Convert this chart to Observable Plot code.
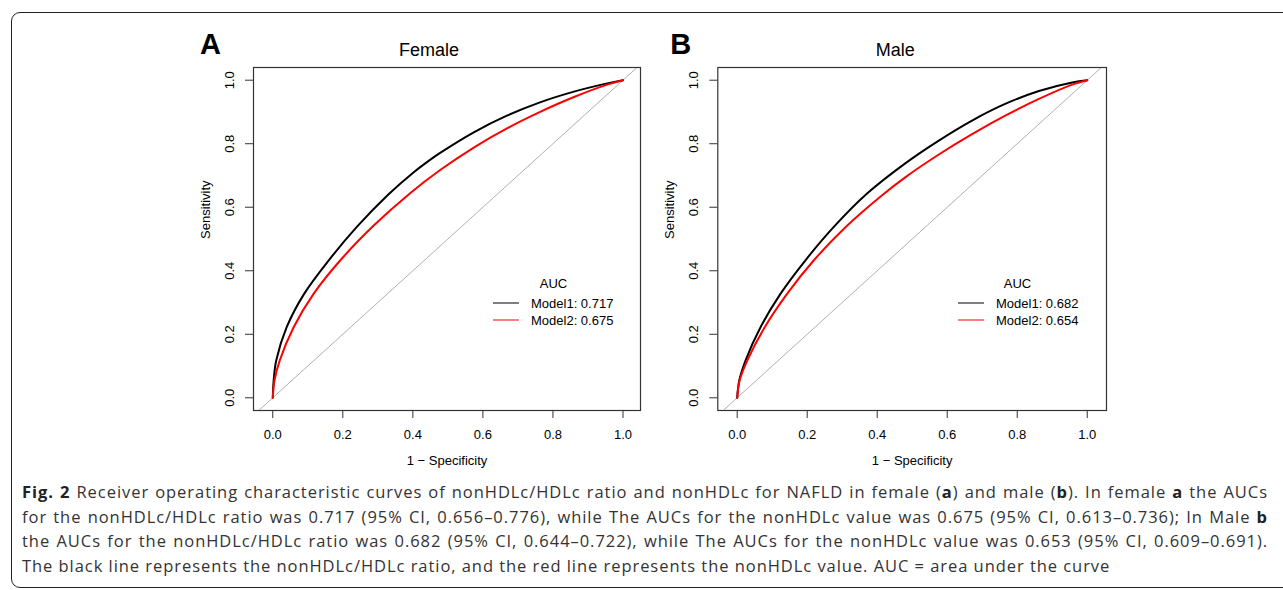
<!DOCTYPE html>
<html>
<head>
<meta charset="utf-8">
<script src="https://cdn.jsdelivr.net/npm/d3@7"></script>
<script src="https://cdn.jsdelivr.net/npm/@observablehq/plot@0.6"></script>
<style>
  html, body { margin: 0; padding: 0; background: #fff; }
  #page { position: relative; width: 1283px; height: 590px; overflow: hidden; background: #fff; }
  #frame { position: absolute; left: 11px; top: 12px; width: 1320px; height: 576px; border: 1.6px solid #222; border-radius: 9px; box-sizing: border-box; }
  .panel { position: absolute; top: 0; }
  .legend { position: absolute; left: 0; top: 0; font-family: "Liberation Sans", Arial, sans-serif; font-size: 13px; color: #000; }
  .legend .ttl { position: absolute; transform: translate(-50%, -50%); white-space: nowrap; }
  .legend .row { position: absolute; display: flex; align-items: center; white-space: nowrap; transform: translateY(-50%); }
  .legend .sw { display: inline-block; width: 26px; height: 0; border-top: 1.3px solid; margin-right: 12px; }
  #caption { position: absolute; left: 22px; top: 480px; width: 1246px; font-family: "Open Sans", sans-serif; font-size: 16.5px; letter-spacing: 0.95px; line-height: 24.6px; color: #333; white-space: nowrap; }
  #caption .j { text-align: justify; text-align-last: justify; }
  #caption b { color: #222; }
</style>
</head>
<body>
<div id="page">
  <div id="frame"></div>
  <div id="panelA" class="panel" style="left:180px"></div>
  <div id="panelB" class="panel" style="left:645px"></div>
  <div id="legA" class="legend"></div>
  <div id="legB" class="legend"></div>
  <div id="caption">
    <div class="j"><b>Fig. 2</b> Receiver operating characteristic curves of nonHDLc/HDLc ratio and nonHDLc for NAFLD in female (<b>a</b>) and male (<b>b</b>). In female <b>a</b> the AUCs</div>
    <div class="j">for the nonHDLc/HDLc ratio was 0.717 (95% CI, 0.656–0.776), while The AUCs for the nonHDLc value was 0.675 (95% CI, 0.613–0.736); In Male <b>b</b></div>
    <div class="j">the AUCs for the nonHDLc/HDLc ratio was 0.682 (95% CI, 0.644–0.722), while The AUCs for the nonHDLc value was 0.653 (95% CI, 0.609–0.691).</div>
    <div>The black line represents the nonHDLc/HDLc ratio, and the red line represents the nonHDLc value. AUC = area under the curve</div>
  </div>
</div>
<script>
// ---- Data ----
const panelLetters = ["A", "B"];
const panelTitles = ["Female", "Male"];
const seriesNames = ["Model1", "Model2"];
const seriesColors = ["#000000", "#ff0000"];
const aucFemale = ["0.717", "0.675"];
const aucMale = ["0.682", "0.654"];
const tickValues = [0, 0.2, 0.4, 0.6, 0.8, 1.0];
const diagonal = [-0.1, 1.1];

// Female (panel A)
const fprFemaleM1 = [0, 0.003, 0.01, 0.04, 0.09, 0.16, 0.24, 0.33, 0.40, 0.45, 0.479, 0.574, 0.67, 0.765, 0.86, 0.955, 1];
const sensFemaleM1 = [0, 0.06, 0.118, 0.223, 0.328, 0.433, 0.538, 0.640, 0.708, 0.750, 0.772, 0.836, 0.889, 0.931, 0.964, 0.99, 1];
const fprFemaleM2 = [0, 0.005, 0.02, 0.06, 0.117, 0.193, 0.289, 0.393, 0.479, 0.574, 0.67, 0.765, 0.86, 0.955, 1];
const sensFemaleM2 = [0, 0.055, 0.118, 0.223, 0.328, 0.433, 0.543, 0.645, 0.718, 0.788, 0.849, 0.901, 0.947, 0.986, 1];

// Male (panel B)
const fprMaleM1 = [0, 0.006, 0.024, 0.067, 0.124, 0.195, 0.276, 0.371, 0.481, 0.576, 0.671, 0.767, 0.862, 0.957, 1];
const sensMaleM1 = [0, 0.055, 0.118, 0.223, 0.328, 0.433, 0.538, 0.643, 0.739, 0.81, 0.873, 0.926, 0.966, 0.993, 1];
const fprMaleM2 = [0, 0.007, 0.029, 0.079, 0.143, 0.219, 0.31, 0.414, 0.481, 0.576, 0.671, 0.767, 0.862, 0.957, 1];
const sensMaleM2 = [0, 0.055, 0.118, 0.223, 0.328, 0.433, 0.538, 0.638, 0.695, 0.766, 0.830, 0.889, 0.941, 0.986, 1];

function toRows(fpr, sens, series) {
  return fpr.map((f, i) => ({fpr: f, sens: sens[i], series}));
}

const FONT = "Liberation Sans, Arial, sans-serif";

function makePanel({letter, title, rows, xDomain, marginLeft, marginRight, width, titleDx, letterDx}) {
  const height = 480;
  return Plot.plot({
    width, height,
    marginLeft, marginRight, marginTop: 67, marginBottom: 70,
    style: {fontFamily: FONT, fontSize: "13px", color: "#000", background: "transparent", overflow: "visible"},
    x: {domain: xDomain, ticks: tickValues, tickFormat: d3.format(".1f")},
    y: {domain: [-0.04, 1.04], ticks: tickValues, tickFormat: d3.format(".1f")},
    color: {domain: seriesNames, range: seriesColors},
    marks: [
      Plot.line(diagonal, {x: d => d, y: d => d, stroke: "#b0b0b0", strokeWidth: 1, clip: true}),
      Plot.line(rows, {x: "fpr", y: "sens", z: "series", stroke: "series", strokeWidth: 2, curve: "catmull-rom"}),
      Plot.frame({stroke: "#333", strokeWidth: 1.2}),
      Plot.axisX({ticks: tickValues, tickFormat: d3.format(".1f"), tickSize: 8, tickPadding: 11, label: null, stroke: "#333", fontSize: 13}),
      Plot.axisY({ticks: tickValues, tickFormat: d3.format(".1f"), tickSize: 8, tickPadding: 12, tickRotate: -90, label: null, stroke: "#333", fontSize: 13}),
      Plot.text(["1 \u2212 Specificity"], {frameAnchor: "bottom", dy: 50, fontSize: 13, lineAnchor: "middle"}),
      Plot.text(["Sensitivity"], {frameAnchor: "left", dx: -48, rotate: -90, fontSize: 13, lineAnchor: "middle"}),
      Plot.text([title], {frameAnchor: "top", dx: titleDx, dy: -12, lineAnchor: "bottom", fontSize: 18}),
      Plot.text([letter], {frameAnchor: "top-left", dx: letterDx, dy: -14, lineAnchor: "bottom", textAnchor: "middle", fontSize: 29, fontWeight: "bold"})
    ]
  });
}

const rowsA = [...toRows(fprFemaleM1, sensFemaleM1, seriesNames[0]), ...toRows(fprFemaleM2, sensFemaleM2, seriesNames[1])];
const rowsB = [...toRows(fprMaleM1, sensMaleM1, seriesNames[0]), ...toRows(fprMaleM2, sensMaleM2, seriesNames[1])];

document.getElementById("panelA").appendChild(makePanel({
  letter: panelLetters[0], title: panelTitles[0], rows: rowsA,
  xDomain: [-0.055, 1.05], marginLeft: 73, marginRight: 10, width: 470, titleDx: -18, letterDx: -43
}));
document.getElementById("panelB").appendChild(makePanel({
  letter: panelLetters[1], title: panelTitles[1], rows: rowsB,
  xDomain: [-0.0554, 1.055], marginLeft: 72.3, marginRight: 9, width: 470, titleDx: -17, letterDx: -37
}));

function makeLegend(el, aucs, ttlX, lineX) {
  el.innerHTML = "";
  const t = document.createElement("div");
  t.className = "ttl"; t.textContent = "AUC";
  t.style.left = ttlX + "px"; t.style.top = "283px";
  el.appendChild(t);
  const ys = [302.7, 320];
  seriesNames.forEach((s, i) => {
    const r = document.createElement("div");
    r.className = "row";
    r.style.left = lineX + "px"; r.style.top = ys[i] + "px";
    const sw = document.createElement("span");
    sw.className = "sw"; sw.style.borderTopColor = seriesColors[i];
    r.appendChild(sw);
    const tx = document.createElement("span");
    tx.textContent = s + ": " + aucs[i];
    r.appendChild(tx);
    el.appendChild(r);
  });
}
makeLegend(document.getElementById("legA"), aucFemale, 553.5, 493);
makeLegend(document.getElementById("legB"), aucMale, 1017.5, 958);
</script>
</body>
</html>
